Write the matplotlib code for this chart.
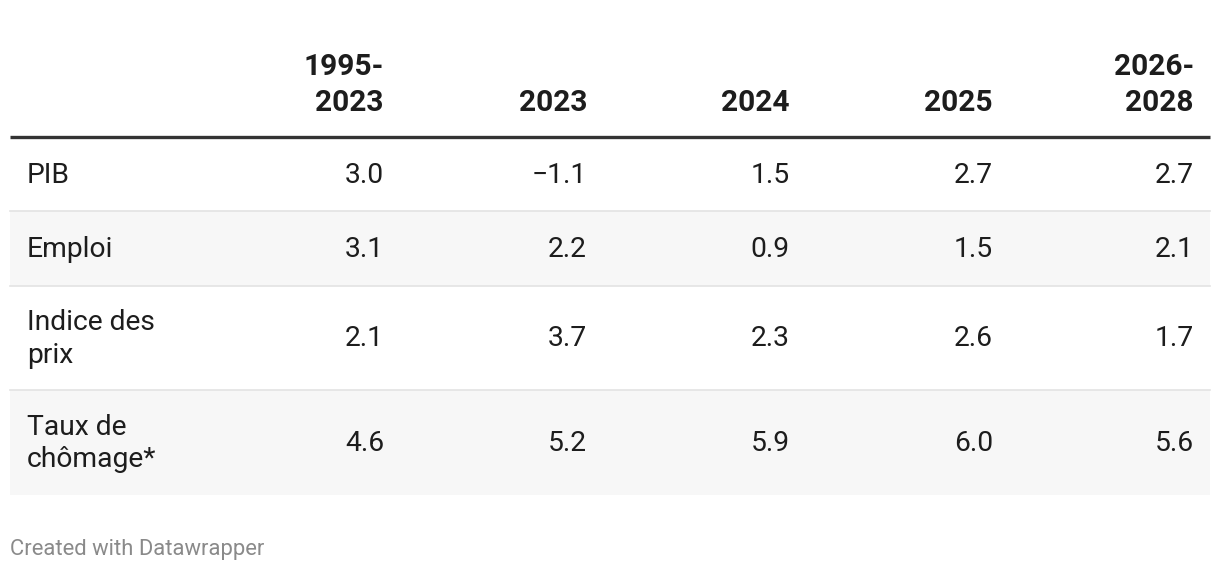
import matplotlib.pyplot as plt
from matplotlib.patches import Rectangle

# table content
columns = ["1995-\n2023", "2023", "2024", "2025", "2026-\n2028"]
row_labels = ["PIB", "Emploi", "Indice des\nprix", "Taux de\nchômage*"]
pib = [3.0, -1.1, 1.5, 2.7, 2.7]
emploi = [3.1, 2.2, 0.9, 1.5, 2.1]
prix = [2.1, 3.7, 2.3, 2.6, 1.7]
chomage = [4.6, 5.2, 5.9, 6.0, 5.6]
values = [pib, emploi, prix, chomage]

# layout in pixels
W, H = 1220, 572
left, right = 10, 1210
label_x = 27
col_right = [384, 587, 790, 993, 1194]
header_base = 111
header_line = 137
row_edges = [138, 211, 286, 390, 495]

plt.rcParams['font.family'] = ['Roboto', 'DejaVu Sans']

fig = plt.figure(figsize=(W / 100, H / 100), dpi=100)
ax = fig.add_axes([0, 0, 1, 1])
ax.set_xlim(0, W)
ax.set_ylim(H, 0)
ax.axis('off')

text_col = '#1d1d1d'

# header
for c, name in enumerate(columns):
    ax.text(col_right[c], header_base, name, ha='right', va='baseline',
            fontsize=21.5, fontweight='bold', color=text_col, linespacing=1.38)
ax.plot([left, right], [header_line, header_line], color='#333333', lw=2.4,
        solid_capstyle='butt')

# rows
for r, label in enumerate(row_labels):
    top, bottom = row_edges[r], row_edges[r + 1]
    if r % 2 == 1:
        ax.add_patch(Rectangle((left, top), right - left, bottom - top,
                               facecolor='#f7f7f7', edgecolor='none'))
    if r < len(row_labels) - 1:
        ax.plot([left, right], [bottom, bottom], color='#e3e3e3', lw=1.2)
    mid = (top + bottom) / 2 + 1
    ax.text(label_x, mid, label, ha='left', va='center', fontsize=20.3,
            color=text_col, linespacing=1.26)
    for c, v in enumerate(values[r]):
        s = '{:.1f}'.format(v).replace('-', '\u2212')
        ax.text(col_right[c], mid, s, ha='right', va='center', fontsize=20.3,
                color=text_col)

ax.text(left, 549, "Created with Datawrapper", ha='left', va='center',
        fontsize=15.8, color='#8a8a8a')

fig.savefig('out.png', dpi=100, facecolor='white')
